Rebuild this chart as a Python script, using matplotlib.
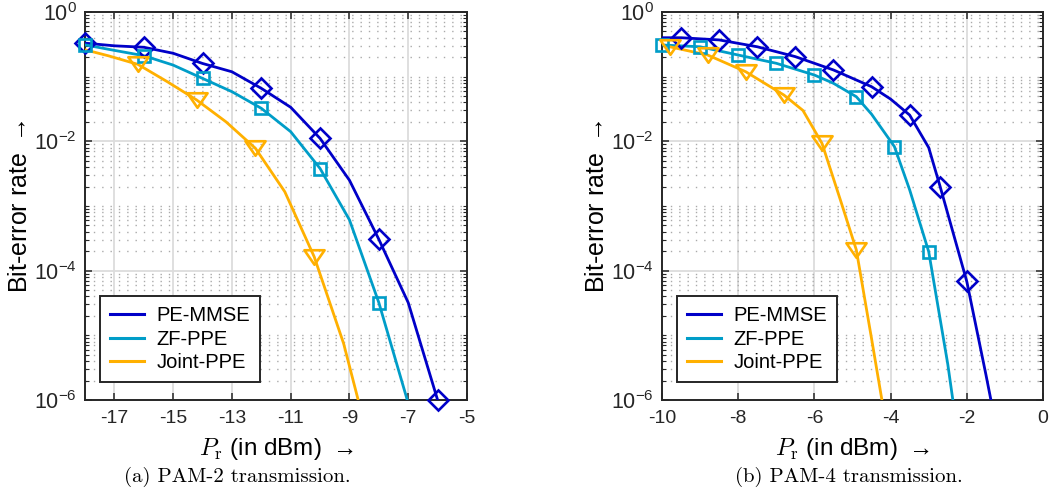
import numpy as np
import matplotlib
matplotlib.use("Agg")
import matplotlib.pyplot as plt
from matplotlib.path import Path
from matplotlib.lines import Line2D
from matplotlib.ticker import FixedLocator, LogLocator, NullFormatter

plt.rcParams['font.family'] = ['Liberation Sans', 'DejaVu Sans']
plt.rcParams['mathtext.fontset'] = 'custom'
plt.rcParams['mathtext.rm'] = 'Liberation Sans'
plt.rcParams['mathtext.it'] = 'cmmi10'
plt.rcParams['mathtext.bf'] = 'cmr10'
plt.rcParams['axes.unicode_minus'] = False

# ---------------- data ----------------
labels = ['PE-MMSE', 'ZF-PPE', 'Joint-PPE']

# PAM-2
pam2_mmse_x = [-18, -17, -16, -15, -14, -13, -12, -11, -10, -9, -8, -7, -6]
pam2_mmse_ber = [0.33, 0.30, 0.285, 0.23, 0.16, 0.119, 0.066, 0.0336, 0.0111,
                 2.5e-3, 3.05e-4, 3.2e-5, 1.0e-6]
pam2_zf_x = [-18, -17, -16, -15, -14, -13, -12, -11, -10, -9, -8, -7]
pam2_zf_ber = [0.31, 0.255, 0.211, 0.151, 0.094, 0.0586, 0.0324, 0.0141,
               3.8e-3, 6.1e-4, 3.2e-5, 8.9e-7]
pam2_joint_x = [-18.2, -17.2, -16.2, -15.2, -14.2, -13.2, -12.2, -11.2, -10.2,
                -9.2, -8.2]
pam2_joint_ber = [0.275, 0.21, 0.155, 0.0836, 0.0436, 0.020, 7.8e-3, 1.66e-3,
                  1.64e-4, 7.5e-6, 1.3e-7]
pam2_mmse_marks = [0, 2, 4, 6, 8, 10, 12]
pam2_zf_marks = [0, 2, 4, 6, 8, 10]
pam2_joint_marks = [0, 2, 4, 6, 8, 10]

# PAM-4
pam4_mmse_x = [-10, -9.5, -8.5, -7.5, -6.5, -5.5, -4.5, -4.0, -3.5, -3.0, -2.7,
               -2.0, -1.5, -1.0]
pam4_mmse_ber = [0.40, 0.40, 0.37, 0.29, 0.204, 0.127, 0.070, 0.045, 0.0255,
                 8.0e-3, 2.0e-3, 6.8e-5, 2.5e-6, 8e-8]
pam4_zf_x = [-10, -9, -8, -7, -6, -5.5, -4.9, -4.5, -3.9, -3.5, -3.0, -2.5, -2.0]
pam4_zf_ber = [0.309, 0.29, 0.216, 0.161, 0.106, 0.079, 0.049, 0.0263, 8.3e-3,
               1.78e-3, 1.97e-4, 3.6e-6, 3e-8]
pam4_joint_x = [-9.8, -8.8, -7.8, -6.8, -6.3, -5.8, -5.3, -4.9, -4.5, -4.0]
pam4_joint_ber = [0.29, 0.216, 0.119, 0.052, 0.030, 9.3e-3, 1.15e-3, 2.1e-4,
                  8.9e-6, 1.6e-7]
pam4_mmse_marks = [1, 2, 3, 4, 5, 6, 8, 10, 11]
pam4_zf_marks = [0, 1, 2, 3, 4, 6, 8, 10]
pam4_joint_marks = [0, 1, 2, 3, 5, 7]

pam2_xticks = [-17, -15, -13, -11, -9, -7, -5]
pam4_xticks = [-10, -8, -6, -4, -2, 0]
yticks = [1e-6, 1e-4, 1e-2, 1e0]
ytick_labels = [r'$\mathregular{10^{-6}}$', r'$\mathregular{10^{-4}}$',
                r'$\mathregular{10^{-2}}$', r'$\mathregular{10^{0}}$']
captions = ['(a) PAM-2 transmission.', '(b) PAM-4 transmission.']

# ---------------- style ----------------
c_mmse = '#0000C8'
c_zf = '#009DC8'
c_joint = '#FFB000'
axis_col = '#262626'

tri = Path([(-1, 0.72), (1, 0.72), (0, -0.72), (-1, 0.72)],
           [Path.MOVETO, Path.LINETO, Path.LINETO, Path.CLOSEPOLY])


def draw_series(ax, x, y, marks, color, marker, ms):
    x = np.asarray(x, float)
    y = np.asarray(y, float)
    ax.plot(x, y, color=color, lw=2.0, solid_joinstyle='round', zorder=3)
    xlo, xhi = ax.get_xlim()
    ylo, yhi = ax.get_ylim()
    mx, my = x[marks], y[marks]
    keep = ((mx >= xlo - 1e-9) & (mx <= xhi + 1e-9) &
            (my >= ylo * 0.999) & (my <= yhi * 1.001))
    ax.plot(mx[keep], my[keep], ls='none', marker=marker, ms=ms, mfc='none',
            mec=color, mew=1.9, clip_on=False, zorder=4)


def style_axes(ax, xlim, xticks):
    ax.set_yscale('log')
    ax.set_xlim(*xlim)
    ax.set_ylim(1e-6, 1)
    ax.set_xticks(xticks)
    ax.set_xticklabels([str(t) for t in xticks])
    ax.yaxis.set_major_locator(FixedLocator(yticks))
    ax.set_yticklabels(ytick_labels)
    ax.yaxis.set_minor_locator(LogLocator(base=10, subs=np.arange(1, 10), numticks=20))
    ax.yaxis.set_minor_formatter(NullFormatter())
    ax.grid(True, which='major', color='#dcdcdc', lw=1.3, ls='-', zorder=0)
    ax.grid(True, which='minor', axis='y', color='#aaaaaa', lw=1.0,
            ls=(0, (1, 5)), zorder=0)
    ax.set_axisbelow(True)
    for s in ax.spines.values():
        s.set_color(axis_col)
        s.set_linewidth(1.4)
    ax.tick_params(which='both', direction='in', top=True, right=True,
                   colors=axis_col, labelcolor='#262626')
    ax.tick_params(which='major', length=5, width=1.1, labelsize=14, pad=7)
    ax.tick_params(axis='y', which='major', labelsize=15.5, pad=6)
    ax.tick_params(which='minor', length=3, width=0.8)
    ax.set_xlabel(r'$P_\mathbf{r}$ (in dBm) $\rightarrow$', fontsize=17.5)
    ax.xaxis.label.set_va('center')
    ax.xaxis.set_label_coords(0.5, -0.125)
    ax.set_ylabel(r'Bit-error rate $\rightarrow$', fontsize=18)
    ax.yaxis.label.set_va('center')
    ax.yaxis.set_label_coords(-0.17, 0.5)


fig = plt.figure(figsize=(10.52, 5.03), dpi=100)
W, H = 1052, 503
ax1 = fig.add_axes([85 / W, 1 - 400 / H, 382 / W, 388 / H])
ax2 = fig.add_axes([662 / W, 1 - 400 / H, 381 / W, 388 / H])

style_axes(ax1, (-18, -5), pam2_xticks)
style_axes(ax2, (-10, 0), pam4_xticks)

draw_series(ax1, pam2_mmse_x, pam2_mmse_ber, pam2_mmse_marks, c_mmse, 'D', 9.8)
draw_series(ax1, pam2_zf_x, pam2_zf_ber, pam2_zf_marks, c_zf, 's', 8.6)
draw_series(ax1, pam2_joint_x, pam2_joint_ber, pam2_joint_marks, c_joint, tri, 14.5)

draw_series(ax2, pam4_mmse_x, pam4_mmse_ber, pam4_mmse_marks, c_mmse, 'D', 9.8)
draw_series(ax2, pam4_zf_x, pam4_zf_ber, pam4_zf_marks, c_zf, 's', 8.6)
draw_series(ax2, pam4_joint_x, pam4_joint_ber, pam4_joint_marks, c_joint, tri, 14.5)

for ax in (ax1, ax2):
    handles = [Line2D([], [], color=c, lw=2.2) for c in (c_mmse, c_zf, c_joint)]
    leg = ax.legend(handles, labels, loc='lower left',
                    bbox_to_anchor=(0.039, 0.046), borderaxespad=0,
                    fancybox=False, framealpha=1, edgecolor=axis_col,
                    fontsize=14.5, handlelength=1.7, handletextpad=0.6,
                    labelspacing=0.22, borderpad=0.5)
    leg.get_frame().set_linewidth(1.4)
    leg.set_zorder(10)

fig.text(237.6 / W, 1 - 477 / H, captions[0], ha='center', va='center',
         family='cmr10', fontsize=15)
fig.text(849 / W, 1 - 477 / H, captions[1], ha='center', va='center',
         family='cmr10', fontsize=15)

fig.savefig('out.png', dpi=100)
